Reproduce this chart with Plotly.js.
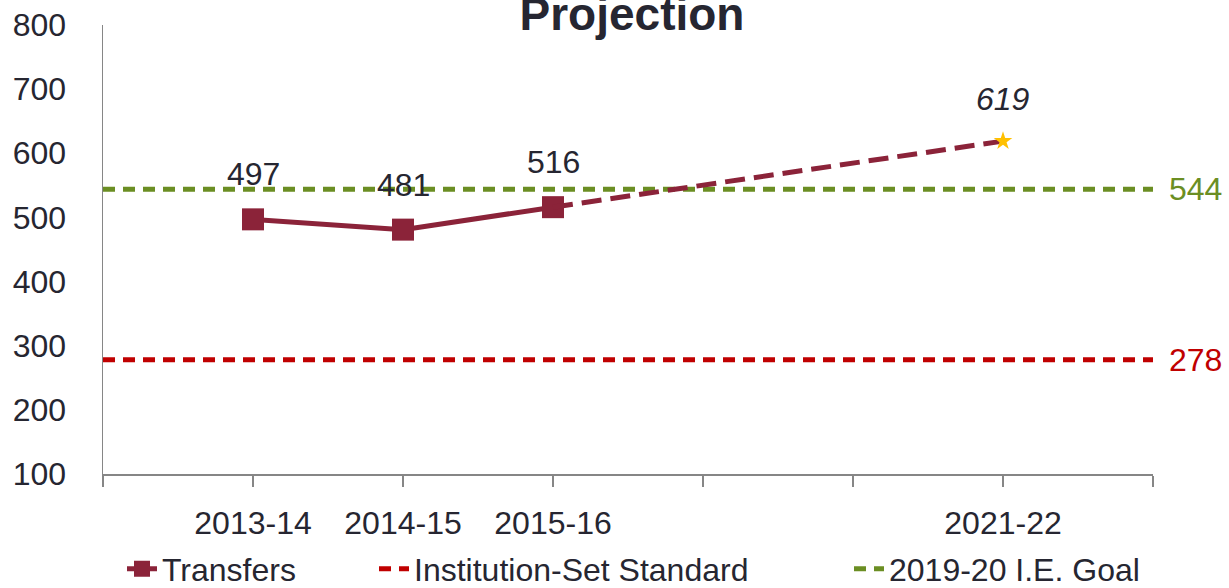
<!DOCTYPE html>
<html>
<head>
<meta charset="utf-8">
<script src="https://cdn.plot.ly/plotly-3.0.1.min.js"></script>
<style>html,body{margin:0;padding:0;background:#fff;}#chart{width:1229px;height:588px;}</style>
</head>
<body>
<div id="chart"></div>
<script>
// ---- data ----
const tickLabels = ["", "2013-14", "2014-15", "2015-16", "", "", "2021-22", ""];
const tickPositions = [0, 1, 2, 3, 4, 5, 6, 7];
const transfersX = [1, 2, 3];
const transfersY = [497, 481, 516];
const projectionX = [3, 6];
const projectionY = [516, 619];
const standardValue = 278;
const goalValue = 544;
const lineSpanX = [0, 7];
const chartTitle = "Projection";
const footnoteMark = "*";

const textColor = "#262631";
const maroon = "#8B2339";
const red = "#C00000";
const green = "#6B8E23";
const font = "Liberation Sans, Arial, sans-serif";

const traces = [
  {
    x: transfersX, y: transfersY, name: "Transfers", type: "scatter", mode: "lines+markers",
    line: {color: maroon, width: 5},
    marker: {symbol: "square", size: 22, color: maroon},
    legendwidth: 207, hoverinfo: "skip"
  },
  {
    x: lineSpanX, y: [standardValue, standardValue], name: "Institution-Set Standard", type: "scatter", mode: "lines",
    line: {color: red, width: 5, dash: "12px,8px"}, legendwidth: 430, hoverinfo: "skip"
  },
  {
    x: lineSpanX, y: [goalValue, goalValue], name: "2019-20 I.E. Goal", type: "scatter", mode: "lines",
    line: {color: green, width: 5, dash: "12px,8px"}, hoverinfo: "skip"
  },
  {
    x: projectionX, y: projectionY, name: "Projection", type: "scatter", mode: "lines",
    line: {color: maroon, width: 5, dash: "20px,9px"}, showlegend: false, hoverinfo: "skip"
  },
  {
    x: [projectionX[1]], y: [projectionY[1]], type: "scatter", mode: "markers",
    marker: {symbol: "star", size: 14, color: "#FFC000"}, showlegend: false, hoverinfo: "skip"
  }
];

const annotations = [];
transfersX.forEach((x, i) => {
  annotations.push({x: x, y: transfersY[i], xref: "x", yref: "y", text: String(transfersY[i]),
    showarrow: false, yshift: 45, font: {family: font, size: 32, color: textColor}});
});
annotations.push({x: projectionX[1], y: projectionY[1], xref: "x", yref: "y",
  text: "<i>" + projectionY[1] + "</i>", showarrow: false, yshift: 42,
  font: {family: font, size: 32, color: textColor}});
annotations.push({x: lineSpanX[1], y: goalValue, xref: "x", yref: "y", text: String(goalValue),
  showarrow: false, xanchor: "left", xshift: 14, font: {family: font, size: 32, color: green}});
annotations.push({x: lineSpanX[1], y: standardValue, xref: "x", yref: "y", text: String(standardValue),
  showarrow: false, xanchor: "left", xshift: 14, font: {family: font, size: 32, color: red}});
annotations.push({x: 592 / 1229, y: 1 - 82 / 588, xref: "paper", yref: "container", text: footnoteMark,
  showarrow: false, font: {family: font, size: 16, color: textColor}});

const layout = {
  width: 1229, height: 588,
  margin: {l: 103, r: 76, t: 25, b: 114},
  paper_bgcolor: "#fff", plot_bgcolor: "#fff",
  font: {family: font, size: 32, color: textColor},
  title: {text: "<b>" + chartTitle + "</b>", x: 632 / 1229, xref: "container", xanchor: "center",
    y: 1 - 14 / 588, yref: "container", yanchor: "middle",
    font: {family: font, size: 46, color: textColor}},
  xaxis: {
    range: [0, 7], tickmode: "array", tickvals: tickPositions, ticktext: tickLabels,
    showgrid: false, zeroline: false, showline: true, linecolor: "#868686", linewidth: 1.5,
    ticks: "outside", ticklen: 11, tickwidth: 1.5, tickcolor: "#868686",
    tickfont: {family: font, size: 32, color: textColor}, ticklabelstandoff: 9, fixedrange: true
  },
  yaxis: {
    range: [100, 800], dtick: 100, tick0: 100,
    showgrid: false, zeroline: false, showline: true, linecolor: "#868686", linewidth: 1.5,
    ticks: "", tickfont: {family: font, size: 32, color: textColor}, ticklabelstandoff: 29, fixedrange: true
  },
  showlegend: true,
  legend: {orientation: "h", xref: "container", x: 122 / 1229, xanchor: "left",
    yref: "container", y: 1 - 569 / 588, yanchor: "middle",
    font: {family: font, size: 32, color: textColor}, traceorder: "normal", itemwidth: 30},
  annotations: annotations
};

Plotly.newPlot("chart", traces, layout, {displayModeBar: false, staticPlot: true});
</script>
</body>
</html>
